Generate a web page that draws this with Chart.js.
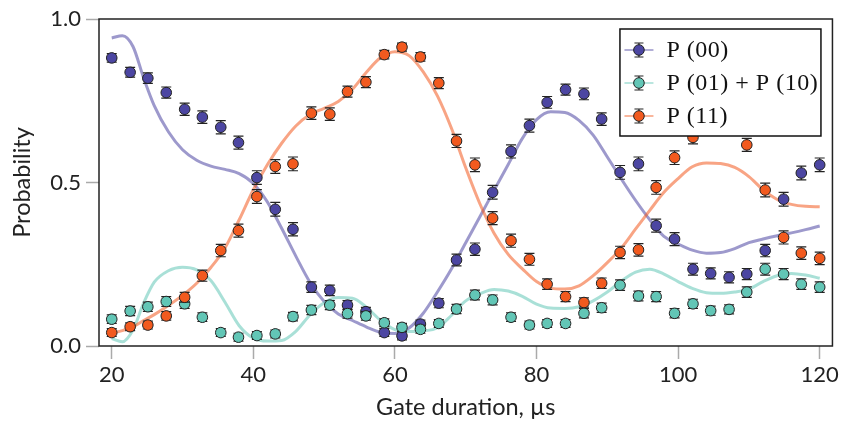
<!DOCTYPE html>
<html>
<head>
<meta charset="utf-8">
<script src="https://cdn.jsdelivr.net/npm/chart.js@4.4.1/dist/chart.umd.min.js"></script>
<style>
  html, body { margin: 0; padding: 0; background: #fff; }
  #wrap { width: 842px; height: 423px; }
</style>
</head>
<body>
<div id="wrap"><canvas id="probChart" width="842" height="423"></canvas></div>
<script>
// measured populations vs gate duration (us)
const gateTimes = [20.0, 22.6, 25.1, 27.7, 30.3, 32.8, 35.4, 37.9, 40.5, 43.1,
                   45.6, 48.2, 50.8, 53.3, 55.9, 58.5, 61.0, 63.6, 66.2, 68.7,
                   71.3, 73.8, 76.4, 79.0, 81.5, 84.1, 86.7, 89.2, 91.8, 94.4,
                   96.9, 99.5, 102.1, 104.6, 107.2, 109.7, 112.3, 114.9, 117.4, 120.0];

const p00 = [0.881, 0.837, 0.819, 0.775, 0.724, 0.700, 0.669, 0.622, 0.515, 0.418,
             0.357, 0.180, 0.170, 0.125, 0.105, 0.041, 0.031, 0.067, 0.131, 0.263,
             0.296, 0.470, 0.595, 0.674, 0.745, 0.784, 0.771, 0.694, 0.531, 0.557,
             0.368, 0.327, 0.235, 0.222, 0.210, 0.220, 0.292, 0.449, 0.529, 0.554];
const pMid = [0.082, 0.107, 0.120, 0.136, 0.129, 0.088, 0.041, 0.027, 0.032, 0.037,
              0.090, 0.110, 0.125, 0.099, 0.092, 0.071, 0.057, 0.051, 0.069, 0.113,
              0.156, 0.141, 0.088, 0.064, 0.069, 0.069, 0.100, 0.117, 0.186, 0.153,
              0.151, 0.100, 0.129, 0.108, 0.112, 0.165, 0.235, 0.220, 0.189, 0.180];
const p11 = [0.041, 0.059, 0.064, 0.092, 0.149, 0.215, 0.292, 0.353, 0.457, 0.549,
             0.557, 0.712, 0.709, 0.778, 0.807, 0.891, 0.914, 0.884, 0.804, 0.627,
             0.554, 0.391, 0.322, 0.265, 0.189, 0.151, 0.133, 0.192, 0.286, 0.294,
             0.485, 0.576, 0.638, 0.670, 0.678, 0.615, 0.477, 0.332, 0.284, 0.268];

const errP00 = [0.013, 0.015, 0.016, 0.017, 0.019, 0.019, 0.020, 0.020, 0.021, 0.021,
                0.020, 0.016, 0.016, 0.014, 0.013, 0.012, 0.012, 0.012, 0.014, 0.018,
                0.019, 0.021, 0.020, 0.020, 0.018, 0.017, 0.018, 0.019, 0.021, 0.021,
                0.020, 0.020, 0.018, 0.017, 0.017, 0.017, 0.019, 0.021, 0.021, 0.021];
const errMid = [0.013, 0.014, 0.014, 0.015, 0.014, 0.013, 0.012, 0.012, 0.012, 0.012,
                0.013, 0.014, 0.014, 0.014, 0.013, 0.012, 0.012, 0.012, 0.012, 0.014,
                0.015, 0.015, 0.013, 0.012, 0.012, 0.012, 0.014, 0.014, 0.016, 0.015,
                0.015, 0.014, 0.014, 0.014, 0.014, 0.016, 0.018, 0.017, 0.016, 0.016];
const errP11 = [0.012, 0.012, 0.012, 0.013, 0.015, 0.017, 0.019, 0.020, 0.021, 0.021,
                0.021, 0.019, 0.019, 0.017, 0.017, 0.013, 0.012, 0.013, 0.017, 0.020,
                0.021, 0.020, 0.020, 0.018, 0.016, 0.015, 0.014, 0.016, 0.019, 0.019,
                0.021, 0.021, 0.020, 0.020, 0.020, 0.020, 0.021, 0.020, 0.019, 0.019];

// simulated curves
const curveTimes = [20, 21.5, 23, 24.5, 26, 28, 30, 32, 34, 36, 38, 40, 42, 44, 46, 48, 50,
                    52, 54, 56, 58, 60, 62, 64, 66, 68, 70, 72, 74, 76, 78, 80, 82, 84,
                    86, 88, 90, 92, 94, 96, 98, 100, 102, 104, 106, 108, 110, 112, 114,
                    116, 118, 120];
const fitP00 = [0.942, 0.949, 0.916, 0.820, 0.735, 0.655, 0.600, 0.568, 0.550, 0.540, 0.527,
                0.497, 0.440, 0.360, 0.275, 0.195, 0.136, 0.098, 0.078, 0.058, 0.042, 0.038,
                0.055, 0.100, 0.165, 0.236, 0.316, 0.395, 0.476, 0.555, 0.635, 0.692, 0.716,
                0.714, 0.690, 0.645, 0.578, 0.510, 0.445, 0.386, 0.335, 0.312, 0.293, 0.284,
                0.286, 0.298, 0.316, 0.327, 0.337, 0.346, 0.356, 0.367];
const fitMid = [0.023, 0.013, 0.049, 0.131, 0.195, 0.230, 0.241, 0.233, 0.200, 0.134, 0.062,
                0.024, 0.015, 0.017, 0.045, 0.095, 0.132, 0.148, 0.146, 0.118, 0.078, 0.050,
                0.044, 0.046, 0.056, 0.094, 0.138, 0.160, 0.173, 0.168, 0.152, 0.128, 0.116,
                0.115, 0.120, 0.138, 0.165, 0.199, 0.226, 0.235, 0.220, 0.197, 0.176, 0.163,
                0.161, 0.165, 0.174, 0.197, 0.215, 0.222, 0.217, 0.207];
const fitP11 = [0.039, 0.047, 0.059, 0.078, 0.096, 0.124, 0.155, 0.192, 0.240, 0.300, 0.386,
                0.478, 0.555, 0.620, 0.673, 0.708, 0.727, 0.748, 0.785, 0.838, 0.882, 0.900,
                0.888, 0.838, 0.765, 0.665, 0.545, 0.435, 0.345, 0.280, 0.236, 0.197, 0.177,
                0.174, 0.184, 0.215, 0.255, 0.300, 0.358, 0.415, 0.470, 0.512, 0.548, 0.560,
                0.558, 0.546, 0.518, 0.478, 0.448, 0.433, 0.427, 0.426];

const xTicks = [20, 40, 60, 80, 100, 120];
const yTicks = [0.0, 0.5, 1.0];
const seriesLabels = ['P (00)', 'P (01) + P (10)', 'P (11)'];

const markerColors = ['#4c46a2', '#62c6b6', '#f25a1f'];
const curveColors = ['rgba(76,70,162,0.55)', 'rgba(98,198,182,0.55)', 'rgba(242,90,31,0.55)'];
const edge = '#222';

const toPoints = (xs, ys) => xs.map((x, i) => ({ x: x, y: ys[i] }));

function markerSet(label, ys, errs, k, order) {
    return {
        label: label,
        data: toPoints(gateTimes, ys),
        errors: errs,
        showLine: false,
        pointRadius: 5.3,
        pointBorderWidth: 1,
        pointBackgroundColor: markerColors[k],
        pointBorderColor: edge,
        colorIndex: k,
        order: order
    };
}

function curveSet(ys, k, order) {
    return {
        data: toPoints(curveTimes, ys),
        showLine: true,
        pointRadius: 0,
        borderWidth: 3,
        borderColor: curveColors[k],
        cubicInterpolationMode: 'monotone',
        fill: false,
        order: order
    };
}

// vertical error bars with caps, drawn just under each marker set
const errorBars = {
    id: 'errorBars',
    beforeDatasetDraw(chart, args) {
        const ds = chart.data.datasets[args.index];
        if (!ds.errors) return;
        const { ctx } = chart;
        const y = chart.scales.y;
        ctx.save();
        ctx.strokeStyle = edge;
        ctx.lineWidth = 1.2;
        args.meta.data.forEach((pt, i) => {
            const v = ds.data[i].y, e = ds.errors[i];
            const top = y.getPixelForValue(v + e);
            const bot = y.getPixelForValue(v - e);
            ctx.beginPath();
            ctx.moveTo(pt.x, top); ctx.lineTo(pt.x, bot);
            ctx.moveTo(pt.x - 5, top); ctx.lineTo(pt.x + 5, top);
            ctx.moveTo(pt.x - 5, bot); ctx.lineTo(pt.x + 5, bot);
            ctx.stroke();
        });
        ctx.restore();
    }
};

// axes frame plus the boxed legend in the upper right
const frameAndLegend = {
    id: 'frameAndLegend',
    afterDraw(chart) {
        const { ctx, chartArea: a } = chart;
        ctx.save();
        ctx.strokeStyle = edge;
        ctx.lineWidth = 1.5;
        ctx.strokeRect(a.left, a.top, a.right - a.left, a.bottom - a.top);

        const bx = a.right - 212.5, by = a.top + 10, bw = 201, bh = 107;
        ctx.fillStyle = '#fff';
        ctx.fillRect(bx, by, bw, bh);
        ctx.lineWidth = 1.5;
        ctx.strokeStyle = '#111';
        ctx.strokeRect(bx, by, bw, bh);

        const sets = chart.data.datasets.filter(d => d.errors);
        sets.sort((p, q) => p.colorIndex - q.colorIndex);
        sets.forEach((d, i) => {
            const k = d.colorIndex;
            const cy = by + 21 + i * 33;
            const cx = bx + 19;
            ctx.strokeStyle = curveColors[k];
            ctx.lineWidth = 1.6;
            ctx.beginPath();
            ctx.moveTo(bx + 4.5, cy); ctx.lineTo(bx + 33.5, cy);
            ctx.stroke();
            ctx.strokeStyle = edge;
            ctx.lineWidth = 1.2;
            ctx.beginPath();
            ctx.moveTo(cx, cy - 7); ctx.lineTo(cx, cy + 7);
            ctx.moveTo(cx - 4.5, cy - 7); ctx.lineTo(cx + 4.5, cy - 7);
            ctx.moveTo(cx - 4.5, cy + 7); ctx.lineTo(cx + 4.5, cy + 7);
            ctx.stroke();
            ctx.beginPath();
            ctx.arc(cx, cy, 5.3, 0, Math.PI * 2);
            ctx.fillStyle = markerColors[k];
            ctx.fill();
            ctx.lineWidth = 1;
            ctx.stroke();

            ctx.fillStyle = '#111';
            ctx.font = '24px "Liberation Serif"';
            ctx.letterSpacing = '0.5px';
            ctx.textBaseline = 'middle';
            ctx.textAlign = 'left';
            ctx.fillText(d.label, bx + 46.5, cy + 1);
        });
        ctx.restore();
    }
};

const tickFont = { family: 'Lato', size: 22 };
const titleFont = { family: 'Lato', size: 23.5 };

new Chart(document.getElementById('probChart').getContext('2d'), {
    type: 'scatter',
    data: {
        datasets: [
            markerSet(seriesLabels[2], p11, errP11, 2, 1),
            markerSet(seriesLabels[1], pMid, errMid, 1, 2),
            markerSet(seriesLabels[0], p00, errP00, 0, 3),
            curveSet(fitP11, 2, 4),
            curveSet(fitMid, 1, 5),
            curveSet(fitP00, 0, 6)
        ]
    },
    options: {
        responsive: false,
        animation: false,
        events: [],
        layout: { padding: { left: 0, right: 9, top: 19, bottom: 0 } },
        plugins: { legend: { display: false }, tooltip: { enabled: false } },
        scales: {
            x: {
                type: 'linear',
                min: 18.2,
                max: 121.8,
                afterBuildTicks: s => { s.ticks = xTicks.map(v => ({ value: v })); },
                afterFit: s => { s.height = 77; },
                grid: { drawOnChartArea: false, tickLength: 13, tickColor: '#aaa', tickWidth: 1.5 },
                border: { display: false },
                ticks: { font: tickFont, color: '#222', padding: 3, maxRotation: 0 },
                title: { display: true, text: 'Gate duration, µs', font: titleFont, color: '#222',
                         padding: { top: 0, bottom: 1 } }
            },
            y: {
                min: 0,
                max: 1,
                afterBuildTicks: s => { s.ticks = yTicks.map(v => ({ value: v })); },
                afterFit: s => { s.width = 99; },
                grid: { drawOnChartArea: false, tickLength: 13, tickColor: '#aaa', tickWidth: 1.5 },
                border: { display: false },
                ticks: { font: tickFont, color: '#222', padding: 5, callback: v => v.toFixed(1) },
                title: { display: true, text: 'Probability', font: titleFont, color: '#222',
                         padding: { top: 8, bottom: 0 } }
            }
        }
    },
    plugins: [errorBars, frameAndLegend]
});
</script>
</body>
</html>
